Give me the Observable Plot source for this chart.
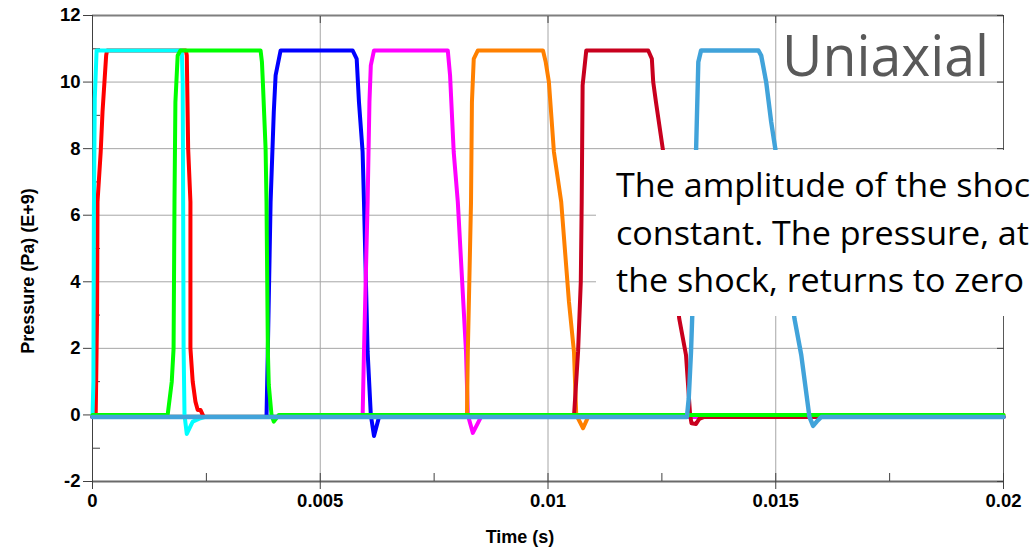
<!DOCTYPE html>
<html>
<head>
<meta charset="utf-8">
<script src="https://cdn.jsdelivr.net/npm/d3@7"></script>
<script src="https://cdn.jsdelivr.net/npm/@observablehq/plot@0.6"></script>
<style>
  html, body { margin: 0; padding: 0; background: #fff; overflow: hidden; }
  #chart { width: 1030px; height: 552px; position: relative; }
</style>
</head>
<body>
<div id="chart"></div>
<script>
// ---- Axis ticks & labels ----
const xTicks = [0, 0.005, 0.01, 0.015, 0.02];
const xTickLabels = ["0", "0.005", "0.01", "0.015", "0.02"];
const xMinorTicks = [0.0025, 0.0075, 0.0125, 0.0175];
const yTicks = [-2, 0, 2, 4, 6, 8, 10, 12];
const yTickLabels = ["-2", "0", "2", "4", "6", "8", "10", "12"];
const yMinorTicks = [-1, 1, 3, 5, 7, 9, 11];
const xGrid = [0.005, 0.01, 0.015];
const yGrid = [0, 2, 4, 6, 8, 10];

const xTitle = "Time (s)";
const yTitle = "Pressure (Pa) (E+9)";
const tagText = "Uniaxial";
// annotation as visible in the (cropped) reference
const noteLines = [
  "The amplitude of the shoc",
  "constant. The pressure, at",
  "the shock, returns to zero"
];

// ---- Series: [time (s), pressure (Pa, E+9)] ----
const seriesRed = [[0,-0.06],[0.00007,-0.06],[0.0001,3],[0.00011,6.4],[0.00018,7.9],[0.00022,9.1],[0.0003,10.8],[0.00032,10.95],[0.00205,10.95],[0.00207,10.8],[0.0021,8],[0.00215,6.4],[0.00215,2],[0.0022,1],[0.00226,0.4],[0.00231,0.15],[0.00237,0.15],[0.00244,-0.06],[0.02,-0.06]];
const seriesCyan = [[0,-0.06],[0.00002,1],[0.00003,6],[0.00005,9.5],[0.00009,10.95],[0.00196,10.95],[0.00198,10],[0.00199,6.4],[0.002,2],[0.00202,0],[0.00207,-0.57],[0.0022,-0.2],[0.00237,-0.1],[0.00248,-0.06],[0.02,-0.06]];
const seriesBlue = [[0,-0.06],[0.00382,-0.06],[0.00385,2],[0.00391,6.4],[0.00398,9.1],[0.00402,10.2],[0.00413,10.95],[0.00571,10.95],[0.0058,10.7],[0.00585,9.4],[0.00593,7.9],[0.00596,6.4],[0.00604,1.9],[0.00611,0],[0.00618,-0.63],[0.00629,-0.06],[0.02,-0.06]];
const seriesMagenta = [[0,-0.06],[0.00593,-0.06],[0.00596,1.9],[0.00604,6.4],[0.00608,9.4],[0.00611,10.5],[0.00618,10.95],[0.0078,10.95],[0.00785,10.2],[0.00793,7.9],[0.00802,6.4],[0.0082,1.9],[0.00824,0],[0.00835,-0.54],[0.00853,-0.06],[0.02,-0.06]];
const seriesOrange = [[0,-0.06],[0.00822,-0.06],[0.00824,1.9],[0.00831,6.4],[0.00833,9.4],[0.00837,10.7],[0.00846,10.95],[0.00989,10.95],[0.00995,10.6],[0.01002,10],[0.01013,7.9],[0.01029,6.4],[0.01046,3.4],[0.01057,1.9],[0.01062,0],[0.01077,-0.4],[0.0109,0],[0.02,0]];
const seriesCrimson = [[0,-0.06],[0.01057,-0.06],[0.01066,1.9],[0.01072,4],[0.01074,6.4],[0.01076,9.9],[0.01084,10.95],[0.0122,10.95],[0.01228,10.7],[0.01231,10],[0.01237,9.4],[0.01253,7.9],[0.01288,2.9],[0.01303,1.8],[0.01312,0],[0.01315,-0.25],[0.01325,-0.27],[0.01332,-0.12],[0.01343,-0.06],[0.02,-0.06]];
const seriesGreen = [[0,0],[0.00165,0],[0.00174,1],[0.00178,2],[0.0018,6.4],[0.00182,9.4],[0.00187,10.8],[0.00193,10.95],[0.00369,10.95],[0.00372,10.6],[0.00374,10],[0.00377,9],[0.0038,8],[0.00382,6.4],[0.00385,1.9],[0.00387,0.9],[0.00393,0],[0.00398,-0.2],[0.00409,0],[0.02,0]];
const seriesLightBlue = [[0,-0.06],[0.01305,-0.06],[0.01309,0.5],[0.01314,1.9],[0.01318,3.5],[0.01325,7.9],[0.0133,10.6],[0.01336,10.95],[0.01462,10.95],[0.01468,10.8],[0.01479,10],[0.0149,8.8],[0.01499,8],[0.01541,2.9],[0.01556,1.8],[0.01574,-0.06],[0.01582,-0.33],[0.0159,-0.2],[0.016,-0.06],[0.02,-0.06]];

const seriesColors = ["#ff0000", "#00ffff", "#0000ff", "#ff00ff", "#ff8000", "#c8001e", "#00ff00", "#41a3da"];
const seriesData = [seriesRed, seriesCyan, seriesBlue, seriesMagenta, seriesOrange, seriesCrimson, seriesGreen, seriesLightBlue];

const xLabelMap = new Map(xTicks.map((v, i) => [v, xTickLabels[i]]));
const yLabelMap = new Map(yTicks.map((v, i) => [v, yTickLabels[i]]));

const lineMarks = seriesData.map((pts, i) =>
  Plot.line(pts, {
    x: d => d[0], y: d => d[1],
    stroke: seriesColors[i],
    strokeWidth: i === seriesData.length - 1 ? 4.4 : 4,
    strokeLinejoin: "round", strokeLinecap: "round"
  })
);

const axisFont = {fontSize: 18.5, fontWeight: "bold", fill: "#000", label: null};

const svg = Plot.plot({
  width: 1030,
  height: 552,
  marginLeft: 92,
  marginRight: 27,
  marginTop: 15,
  marginBottom: 71,
  style: {fontFamily: "'Liberation Sans', Arial, sans-serif", background: "#fff", overflow: "hidden"},
  x: {domain: [0, 0.02], axis: null},
  y: {domain: [-2, 12], axis: null},
  marks: [
    Plot.ruleY(yGrid, {stroke: "#a6a6a6", strokeWidth: 1}),
    Plot.ruleX(xGrid, {stroke: "#a6a6a6", strokeWidth: 1}),
    Plot.ruleY([12], {stroke: "#7f7f7f", strokeWidth: 2}),
    Plot.ruleX([0.02], {stroke: "#595959", strokeWidth: 1}),
    Plot.ruleX([0], {stroke: "#404040", strokeWidth: 1}),
    Plot.ruleY([-2], {stroke: "#6a6a6a", strokeWidth: 2}),
    // tick marks
    Plot.axisY(yTicks, {tickSize: 9, fill: null, stroke: "#404040", label: null}),
    Plot.axisY(yMinorTicks, {tickSize: 8, dx: 8, fill: null, stroke: "#404040", label: null}),
    Plot.axisY(yTicks, {anchor: "right", tickSize: 7, dx: -7, fill: null, stroke: "#404040", label: null}),
    Plot.axisX(xTicks, {tickSize: 16, dy: -8, fill: null, stroke: "#404040", label: null}),
    Plot.axisX(xMinorTicks, {tickSize: 8, dy: -8, fill: null, stroke: "#404040", label: null}),
    Plot.axisX(xTicks, {anchor: "top", tickSize: 7, dy: 7, fill: null, stroke: "#404040", label: null}),
    // tick labels
    Plot.axisY(yTicks, {tickSize: 0, tickPadding: 12, tickFormat: d => yLabelMap.get(d), ...axisFont}),
    Plot.axisX(xTicks, {tickSize: 0, tickPadding: 12, tickFormat: d => xLabelMap.get(d), ...axisFont}),
    ...lineMarks
  ]
});

document.getElementById("chart").appendChild(svg);

const s = d3.select(svg);

// axis titles
s.append("text")
  .attr("x", 520).attr("y", 543)
  .attr("text-anchor", "middle")
  .attr("font-family", "'Liberation Sans', Arial, sans-serif")
  .attr("font-size", 18).attr("font-weight", "bold").attr("fill", "#000")
  .text(xTitle);

s.append("text")
  .attr("transform", "translate(34,271) rotate(-90)")
  .attr("text-anchor", "middle")
  .attr("font-family", "'Liberation Sans', Arial, sans-serif")
  .attr("font-size", 18).attr("font-weight", "bold").attr("fill", "#000")
  .text(yTitle);

// "Uniaxial" tag
const tagG = s.append("g");
const tag = tagG.append("text")
  .attr("x", 0).attr("y", 76)
  .attr("text-anchor", "start")
  .attr("font-family", "'Open Sans', sans-serif")
  .attr("font-size", 57).attr("fill", "#595959")
  .text(tagText);
const tagLen = tag.node().getComputedTextLength();
tagG.attr("transform", `translate(782,0) scale(${207 / tagLen},1)`);

// annotation box
s.append("rect")
  .attr("x", 596).attr("y", 150).attr("width", 440).attr("height", 166)
  .attr("fill", "#fff");
const noteG = s.append("g");
const baselines = [197, 245, 292];
const noteTexts = noteLines.map((t, i) => noteG.append("text")
  .attr("x", 0).attr("y", baselines[i])
  .attr("text-anchor", "start")
  .attr("font-family", "'Open Sans', sans-serif")
  .attr("font-size", 33.5).attr("fill", "#000")
  .text(t));
const refLen = noteTexts[2].node().getComputedTextLength();
noteG.attr("transform", `translate(616,0) scale(${408 / refLen},1)`);
</script>
</body>
</html>
